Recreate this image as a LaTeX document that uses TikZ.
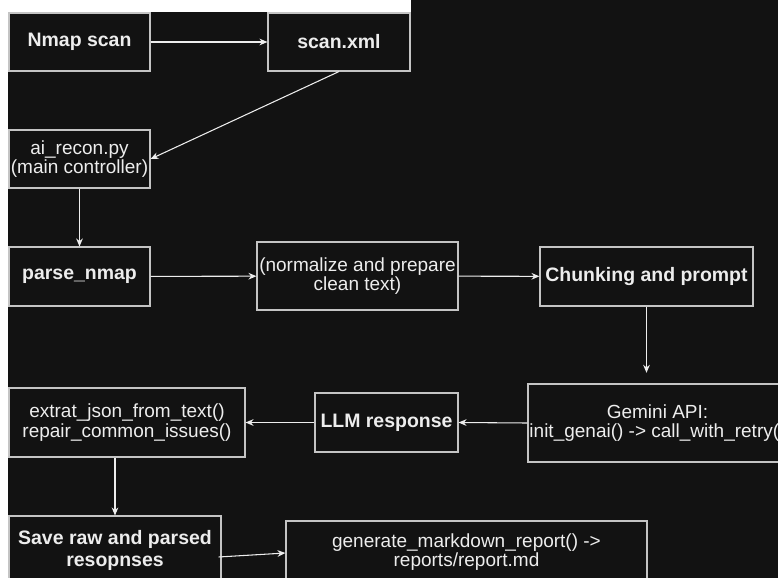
\documentclass[tikz,border=0pt]{standalone}
\usepackage{fontspec}
\setmainfont{Liberation Sans}
\usetikzlibrary{arrows.meta,calc}
\definecolor{canvas}{HTML}{121212}
\definecolor{frame}{HTML}{C4C4C4}
\definecolor{ink}{HTML}{EDEDED}
\tikzset{
  box/.style={draw=frame, line width=0.8pt, fill=canvas, text=ink, align=center,
    inner sep=0pt, font=\fontsize{14.25pt}{14.6pt}\selectfont},
  strong/.style={font=\fontsize{14.6pt}{16.5pt}\selectfont\bfseries},
  size/.style 2 args={minimum width=#1*0.75pt, minimum height=#2*0.75pt},
  flow/.style={draw=ink, line width=0.8pt, -{Stealth[length=6pt,width=5pt]}},
}
\begin{document}
\begin{tikzpicture}[x=0.75pt,y=-0.75pt]
\useasboundingbox (0,0) rectangle (778,578);
\clip (0,0) rectangle (778,578);
% page and dark canvas
\fill[white] (0,0) rectangle (778,578);
\fill[canvas] (8,12) -- (411,12) -- (411,0) -- (778,0) -- (778,578) -- (8,578) -- cycle;

% boxes
\node[box,strong,size={141}{58}] (nmap) at (79.5,42) {Nmap scan};
\node[box,strong,size={142}{58}] (scanxml) at (339,42) {scan.xml};
\node[box,size={141}{58}] (airecon) at (79.5,159) {ai\_recon.py\\(main controller)};
\node[box,strong,size={141}{59}] (parse) at (79.5,276.5) {parse\_nmap};
\node[box,size={201}{68}] (normalize) at (357.5,276) {(normalize and prepare\\clean text)};
\node[box,strong,size={213}{59}] (chunk) at (646.5,276.5) {Chunking and prompt};
\node[box,size={259}{78}] (gemini) at (657.5,423) {Gemini API:\\init\_genai() -> call\_with\_retry()};
\node[box,strong,size={143}{59}] (llm) at (386.5,422.5) {LLM response};
\node[box,size={236}{69}] (extract) at (127,422.5) {extrat\_json\_from\_text()\\repair\_common\_issues()};
\node[box,strong,size={212}{68}] (save) at (115,550) {Save raw and parsed\\resopnses};
\node[box,size={361}{62}] (generate) at (466.5,552) {generate\_markdown\_report() ->\\reports/report.md};

% connectors
\draw[flow] (nmap) -- (scanxml);
\draw[flow] (scanxml.south) -- (airecon.east);
\draw[flow] (airecon) -- (parse);
\draw[flow] (parse) -- (normalize);
\draw[flow] (normalize) -- (chunk);
\draw[flow, shorten >=8pt] (chunk) -- (gemini.north -| chunk.south);
\draw[flow] (gemini.west) -- (llm.east);
\draw[flow] (llm) -- (extract);
\draw[flow] (save.north |- extract.south) -- (save.north);
\draw[flow] ($(save.east)+(-3,7)$) -- ($(generate.west)+(0,1)$);
\end{tikzpicture}
\end{document}
